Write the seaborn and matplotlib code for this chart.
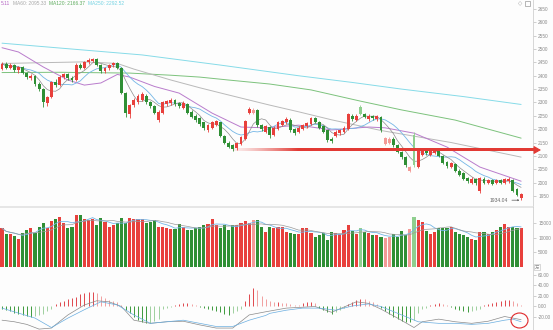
import numpy as np
import pandas as pd
import matplotlib
matplotlib.use("Agg")
import matplotlib.pyplot as plt
from matplotlib.patches import Ellipse, Rectangle
from matplotlib.colors import to_rgb
import seaborn as sns

sns.set_theme(style="white")
plt.rcParams["font.family"] = ["Liberation Sans", "DejaVu Sans"]

# ---------------- daily candles ----------------
opens = [2425, 2445, 2430, 2440, 2420, 2432, 2410, 2392, 2400, 2370,
         2350, 2298, 2320, 2375, 2365, 2395, 2405, 2392, 2385, 2440,
         2430, 2452, 2455, 2462, 2440, 2418, 2428, 2440, 2446, 2430,
         2335, 2255, 2290, 2300, 2310, 2325, 2300, 2285, 2235, 2262,
         2295, 2298, 2310, 2298, 2280, 2295, 2265, 2250, 2240, 2225,
         2195, 2205, 2215, 2225, 2175, 2150, 2140, 2128, 2145, 2165,
         2262, 2262, 2270, 2215, 2190, 2208, 2180, 2200, 2215, 2225,
         2235, 2200, 2190, 2200, 2210, 2220, 2240, 2228, 2210, 2195,
         2165, 2175, 2185, 2190, 2200, 2250, 2235, 2283, 2255, 2238,
         2250, 2238, 2245, 2145, 2150, 2165, 2140, 2115, 2095, 2045,
         2180, 2060, 2105, 2122, 2105, 2110, 2118, 2100, 2078, 2058,
         2070, 2045, 2035, 2018, 2000, 2012, 1968, 2015, 1998, 2008,
         1998, 2008, 2000, 2005, 2010, 1975, 1942]
highs = [2452, 2450, 2446, 2444, 2438, 2436, 2414, 2405, 2402, 2375,
         2356, 2326, 2380, 2388, 2402, 2412, 2410, 2398, 2446, 2448,
         2456, 2465, 2468, 2466, 2444, 2434, 2445, 2452, 2450, 2432,
         2340, 2296, 2318, 2330, 2338, 2330, 2305, 2290, 2272, 2305,
         2310, 2315, 2314, 2302, 2304, 2298, 2270, 2255, 2244, 2228,
         2220, 2230, 2236, 2228, 2180, 2155, 2144, 2152, 2175, 2236,
         2282, 2278, 2274, 2220, 2214, 2212, 2210, 2230, 2236, 2244,
         2240, 2204, 2210, 2220, 2228, 2245, 2244, 2232, 2214, 2198,
         2170, 2195, 2200, 2210, 2262, 2255, 2256, 2290, 2260, 2255,
         2254, 2252, 2248, 2172, 2170, 2170, 2145, 2120, 2100, 2062,
         2190, 2122, 2130, 2128, 2122, 2127, 2122, 2104, 2082, 2076,
         2074, 2050, 2038, 2022, 2020, 2016, 2022, 2020, 2014, 2012,
         2012, 2012, 2016, 2020, 2014, 1980, 1962]
lows = [2420, 2425, 2424, 2415, 2412, 2405, 2388, 2385, 2362, 2342,
        2282, 2285, 2316, 2358, 2362, 2388, 2385, 2378, 2382, 2424,
        2426, 2445, 2450, 2436, 2410, 2412, 2422, 2432, 2425, 2330,
        2245, 2242, 2282, 2295, 2305, 2295, 2278, 2255, 2226, 2258,
        2288, 2292, 2288, 2278, 2275, 2255, 2240, 2228, 2212, 2198,
        2190, 2200, 2210, 2170, 2145, 2128, 2118, 2122, 2140, 2160,
        2255, 2258, 2208, 2194, 2185, 2167, 2175, 2195, 2210, 2220,
        2188, 2178, 2186, 2196, 2205, 2215, 2222, 2200, 2184, 2152,
        2150, 2170, 2180, 2185, 2196, 2232, 2230, 2252, 2240, 2232,
        2235, 2232, 2190, 2140, 2146, 2135, 2110, 2090, 2058, 2040,
        2060, 2055, 2100, 2105, 2100, 2106, 2095, 2070, 2056, 2054,
        2040, 2025, 2010, 2000, 1996, 1992, 1962, 1996, 1994, 1990,
        1994, 1996, 1996, 2000, 1965, 1950, 1934.04]
closes = [2445, 2430, 2440, 2420, 2432, 2410, 2395, 2400, 2370, 2350,
          2300, 2320, 2375, 2365, 2395, 2405, 2392, 2385, 2440, 2430,
          2452, 2460, 2462, 2440, 2418, 2428, 2440, 2446, 2430, 2335,
          2262, 2290, 2310, 2325, 2330, 2300, 2285, 2262, 2265, 2300,
          2305, 2310, 2295, 2285, 2298, 2260, 2245, 2235, 2218, 2205,
          2215, 2225, 2232, 2175, 2150, 2135, 2125, 2148, 2170, 2232,
          2275, 2272, 2215, 2200, 2210, 2180, 2205, 2225, 2230, 2238,
          2195, 2185, 2205, 2215, 2222, 2240, 2228, 2205, 2190, 2160,
          2155, 2190, 2195, 2205, 2255, 2238, 2250, 2258, 2245, 2250,
          2240, 2248, 2195, 2168, 2165, 2140, 2115, 2095, 2065, 2058,
          2065, 2118, 2125, 2110, 2118, 2122, 2100, 2075, 2062, 2072,
          2045, 2030, 2015, 2005, 2015, 1998, 2017, 2000, 2010, 1995,
          2008, 2000, 2012, 2015, 1970, 1955, 1958]
volumes = [13190, 11140, 11140, 10690, 9550, 11480, 12620, 13410, 11480, 13750,
           14890, 13190, 15690, 16370, 17160, 14890, 13190, 13750, 17730, 17730,
           16260, 16030, 16370, 14320, 16600, 15230, 13750, 14320, 14890, 16600,
           15120, 16600, 16370, 16370, 16370, 14890, 15460, 16030, 13750, 13530,
           13190, 12850, 12850, 14550, 13750, 12620, 12620, 13190, 13750, 14320,
           14550, 16370, 14320, 13410, 14320, 12620, 14320, 14320, 14890, 15690,
           14890, 16030, 16030, 13750, 12050, 13750, 13190, 13500, 13500, 12050,
           11480, 11300, 11300, 13190, 13400, 11480, 10350, 10900, 11700, 9210,
           11800, 11480, 11140, 12620, 14320, 12280, 11140, 13190, 12050, 11480,
           10900, 10900, 10350, 10010, 10350, 11140, 10350, 12280, 10900, 12960,
           16940, 16030, 15230, 12280, 11140, 12050, 13190, 13190, 13190, 13750,
           12050, 11140, 10900, 10350, 9550, 9210, 12050, 11800, 11140, 12050,
           12620, 13750, 14550, 13750, 13750, 13190, 13190]

# ---------------- long moving averages (sampled) ----------------
ma20_idx = [0, 4, 10, 16, 20, 24, 28, 31, 37, 43, 51, 58, 64, 72, 80, 89, 93, 100, 108, 116, 123, 126]
ma20_val = [2505, 2489, 2433, 2384, 2365, 2373, 2405, 2395, 2360, 2335, 2260, 2208, 2205, 2215,
            2197, 2208, 2205, 2185, 2133, 2058, 2021, 2005.11]
ma60_idx = [0, 20, 28, 32, 41, 48, 55, 65, 72, 80, 92, 109, 126]
ma60_val = [2446, 2452, 2446, 2425, 2384, 2355, 2328, 2290, 2265, 2235, 2195, 2150, 2095.33]
ma120_idx = [0, 14, 31, 41, 48, 55, 65, 75, 87, 97, 110, 126]
ma120_val = [2412, 2413, 2410, 2402, 2395, 2384, 2369, 2347, 2305, 2272, 2234, 2166.37]
ma250_idx = [0, 17, 34, 53, 72, 85, 97, 112, 126]
ma250_val = [2522, 2500, 2478, 2440, 2400, 2375, 2350, 2322, 2292.52]

# ---------------- MACD ----------------
macd_hist = [-6, -8, -10, -14, -16, -18, -19, -20, -19, -18,
             -16, -10, -6, 4, 8, 10, 13, 16, 18, 22,
             25, 27, 27, 24, 20, 15, 12, 10, 7, 2,
             -8, -14, -20, -26, -30, -33, -32, -28, -24, -6,
             -3, -2, 2, 4, 5, 5, 3, 1, -1, -4,
             -6, -8, -10, -12, -15, -17, -14, -10, -6, 10,
             22, 35, 30, 20, 14, 10, 8, 8, 6, 5,
             4, 2, 1, 6, 8, 8, 6, -4, -8, -12,
             -15, -12, -8, -4, 4, 8, 12, 14, 13, 10,
             7, 4, -4, -10, -15, -20, -24, -28, -30, -30,
             -26, -14, -6, -3, 2, 4, 5, 4, 1, -1,
             -5, -8, -10, -12, -10, -8, -5, 2, 4, 6,
             8, 9, 11, 12, 10, 6, 2]
dif_idx = [0, 3, 6, 9, 12, 16, 20, 23, 26, 29, 32, 36, 40, 44, 48, 52, 56, 60, 64,
           69, 76, 80, 83, 86, 89, 92, 96, 100, 102, 106, 110, 114, 118, 122, 126]
dif_val = [-27, -30, -35, -44, -42, -17, 2, 10, 8, -1, -27, -33, -30, -29, -36, -42, -42, -17, -11,
           -4, -1, -12, -2, 8, 5, -6, -23, -41, -30, -25, -30, -33, -29, -20, -26]
dea_idx = [0, 8, 12, 16, 20, 24, 28, 32, 36, 40, 44, 48, 52, 56, 60, 64, 65, 69, 73, 77,
           81, 85, 89, 92, 97, 101, 106, 110, 114, 118, 122, 124, 126]
dea_val = [-4, -23, -41, -23, -7, 8, 2, -17, -33, -30, -27, -33, -39, -39, -27, -18, -14, -8, -4, -4,
           -8, 0, 4, -1, -17, -30, -33, -33, -35, -33, -27, -25, -30]

# header / annotations
low_label = "1934.04"
resist_level = 2122

# ---------------- derived frames ----------------
n = len(closes)
df = pd.DataFrame({"i": np.arange(n), "open": opens, "high": highs,
                   "low": lows, "close": closes, "vol": volumes})
df["ma5"] = df["close"].rolling(5, min_periods=1).mean()
df["ma10"] = df["close"].rolling(10, min_periods=1).mean()
df["vma5"] = df["vol"].rolling(5, min_periods=1).mean()
df["vma10"] = df["vol"].rolling(10, min_periods=1).mean()

RED, LRED = "#e8403c", "#f39a96"
GRN, LGRN = "#2f8f35", "#8fcf8f"
prev = df["close"].shift(1).fillna(df["open"])
colors = []
for o, c, p in zip(df["open"], df["close"], prev):
    if c >= o:
        colors.append(RED if c >= p else LRED)
    else:
        colors.append(GRN if c <= p else LGRN)

# ---------------- figure layout (pixel based) ----------------
W, H = 553, 330
fig = plt.figure(figsize=(W / 100, H / 100), dpi=100)
fig.patch.set_facecolor("#fdfdfd")
right_px = 533


def add_axes(top, bottom):
    return fig.add_axes([0, 1 - bottom / H, right_px / W, (bottom - top) / H])


ax = add_axes(0, 207)
axv = add_axes(207, 267)
axm = add_axes(267, 330)

pitch = 4.12
x_left = -2 / pitch
x_right = (right_px - 2) / pitch
for a in (ax, axv, axm):
    a.set_facecolor("#fdfdfd")
    a.yaxis.tick_right()
    a.tick_params(axis="y", which="both", direction="out", length=2.5, width=0.5,
                  colors="#bbbbbb", labelcolor="#8a8a8a", labelsize=3.4, pad=1.2)
    a.tick_params(axis="x", bottom=False, labelbottom=False)
    for s in ("top", "left", "bottom"):
        a.spines[s].set_visible(False)
    a.spines["right"].set_color("#d0d0d0")
    a.spines["right"].set_linewidth(0.6)

# ---------------- price panel ----------------
price_lim = (1908.5, 2683.7)

body_w = 0.7
for i, r in df.iterrows():
    col = colors[i]
    ax.vlines(r["i"], r["low"], r["high"], color=col, linewidth=0.6, zorder=3)
    lo, hi = min(r["open"], r["close"]), max(r["open"], r["close"])
    ax.bar(r["i"], max(hi - lo, 1.5), bottom=lo, width=body_w, color=col,
           linewidth=0, zorder=4)

line_specs = [
    (ma250_idx, ma250_val, "#86dbe8", 0.7),
    (ma120_idx, ma120_val, "#7cc27c", 0.7),
    (ma60_idx, ma60_val, "#b9b9b9", 0.7),
    (ma20_idx, ma20_val, "#b97ccc", 0.7),
]
for xs, ys, col, lw in line_specs:
    sns.lineplot(x=xs, y=ys, ax=ax, color=col, linewidth=lw, zorder=2)
sns.lineplot(x=df["i"], y=df["ma10"], ax=ax, color="#74b6e6", linewidth=0.6, zorder=2)
sns.lineplot(x=df["i"], y=df["ma5"], ax=ax, color="#8c8c8c", linewidth=0.5, zorder=2)
ax.set_xlabel("")
ax.set_ylabel("")

# resistance line: fades in from the left, ends in an arrow tip
x0, x1 = (233 - 2) / pitch, (536 - 2) / pitch
ramp = np.clip(np.linspace(0, 1, 400) * (x1 - x0) / (65 / pitch), 0, 1)
grad = np.zeros((1, 400, 4))
grad[..., :3] = to_rgb("#e23a34")
grad[0, :, 3] = 0.08 + 0.92 * ramp ** 1.3
half = 1.25 * (price_lim[1] - price_lim[0]) / 207
ax.imshow(grad, extent=[x0, x1, resist_level - half, resist_level + half],
          aspect="auto", interpolation="bilinear", zorder=5, clip_on=False)
ax.annotate("", xy=((541 - 2) / pitch, resist_level), xytext=(x1 - 0.5, resist_level),
            arrowprops=dict(arrowstyle="-|>,head_length=0.35,head_width=0.2",
                            color="#e23a34", lw=0.8, shrinkA=0, shrinkB=0),
            zorder=5, annotation_clip=False)

ax.set_xlim(x_left, x_right)
ax.set_ylim(*price_lim)
ax.set_yticks(np.arange(1950, 2651, 50))

# lowest price marker
ax.annotate(low_label, xy=(n - 1 - 0.4, 1934.04), xytext=(n - 4.2, 1934.04),
            fontsize=3.6, color="#666666", ha="right", va="center",
            arrowprops=dict(arrowstyle="->,head_length=0.25,head_width=0.12",
                            color="#555555", lw=0.5, shrinkA=0.5, shrinkB=0))

# header with moving-average values
hdr_y = 1 - 3.5 / H
fig.text(0.5 / W, hdr_y, "5.11", color="#b566c4", fontsize=3.5, ha="left", va="center")
fig.text(13 / W, hdr_y, "MA60: 2095.33", color="#a8a8a8", fontsize=3.5, va="center")
fig.text(49 / W, hdr_y, "MA120: 2166.37", color="#5eac5e", fontsize=3.5, va="center")
fig.text(88 / W, hdr_y, "MA250: 2292.52", color="#72d2e2", fontsize=3.5, va="center")
fig.text(520 / W, hdr_y, "\u25c7", color="#999999", fontsize=4, ha="center", va="center",
         family="DejaVu Sans")
fig.patches.append(Rectangle((525 / W, 1 - 6 / H), 5 / W, 5 / H, transform=fig.transFigure,
                             fill=False, edgecolor="#999999", linewidth=0.5))

# ---------------- volume panel ----------------
axv.bar(df["i"], df["vol"], width=0.75, color=colors, linewidth=0, zorder=2)
sns.lineplot(x=df["i"], y=df["vma5"], ax=axv, color="#74b6e6", linewidth=0.6, zorder=3)
sns.lineplot(x=df["i"], y=df["vma10"], ax=axv, color="#9a9a9a", linewidth=0.5, zorder=3)
axv.set_xlabel("")
axv.set_ylabel("")
axv.set_xlim(x_left, x_right)
axv.set_ylim(0, 20455)
axv.set_yticks([5000, 10000, 15000])
axv.axhline(20455, color="#e2e2e2", linewidth=1.2, clip_on=False)
axv.text(1.004, 0.0, "\u4e07", transform=axv.transAxes, fontsize=3.2, color="#888888",
         va="center", ha="left", family=["Noto Sans CJK SC", "DejaVu Sans"],
         bbox=dict(boxstyle="square,pad=0.15", fc="#fdfdfd", ec="#bbbbbb", lw=0.4))

# ---------------- MACD panel ----------------
hist = np.array(macd_hist, dtype=float)
prev_h = np.r_[0, hist[:-1]]
hcols = []
for h, p in zip(hist, prev_h):
    if h >= 0:
        hcols.append("#e0474c" if h >= p else "#f1a0a0")
    else:
        hcols.append("#3c9a3c" if h <= p else "#9fd09f")
axm.vlines(df["i"], 0, hist, colors=hcols, linewidth=0.7, zorder=2)
sns.lineplot(x=dif_idx, y=dif_val, ax=axm, color="#8a8a8a", linewidth=0.5, zorder=3)
sns.lineplot(x=dea_idx, y=dea_val, ax=axm, color="#6aaee0", linewidth=0.5, zorder=3)
axm.set_xlabel("")
axm.set_ylabel("")
axm.set_xlim(x_left, x_right)
axm.set_ylim(-45.7, 74.3)
axm.set_yticks([-20, 0, 20, 40, 60])
axm.set_yticklabels(["-20.00", "0.00", "20.00", "40.00", "60.00"])
axm.add_patch(Ellipse(((519.5 - 2) / pitch, -27.6), 17 / pitch, 15 / 0.525,
                      fill=False, edgecolor="#e0282a", linewidth=0.8, clip_on=False, zorder=6))

fig.savefig("out.png", dpi=100, facecolor=fig.get_facecolor())
